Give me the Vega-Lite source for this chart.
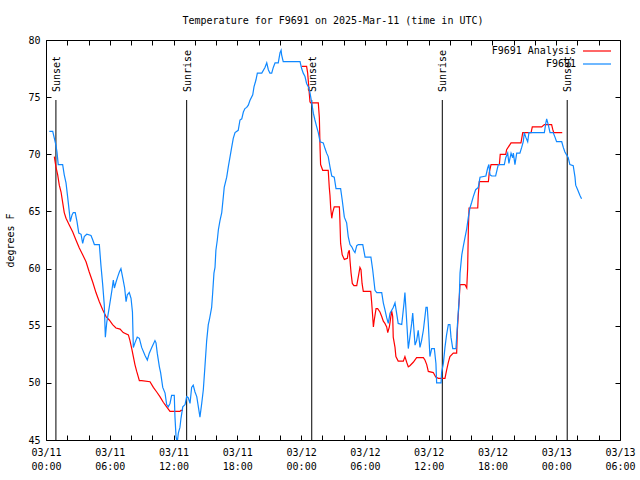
{
"$schema": "https://vega.github.io/schema/vega-lite/v6.json",
"width": 574, "height": 400,
"autosize": {"type": "none"},
"padding": {"left": 46, "top": 40, "right": 20, "bottom": 40},
"background": "white",
"title": {"text": "Temperature for F9691 on 2025-Mar-11 (time in UTC)", "font": "DejaVu Sans Mono", "fontSize": 10, "fontWeight": "normal", "color": "black", "anchor": "middle", "offset": 9},
"config": {
  "view": {"stroke": "black", "strokeWidth": 1},
  "font": "DejaVu Sans Mono",
  "axis": {"labelFont": "DejaVu Sans Mono", "labelFontSize": 10, "labelColor": "black", "tickColor": "black", "domain": false, "grid": false, "titleFont": "DejaVu Sans Mono", "titleFontSize": 10, "titleFontWeight": "normal", "titleColor": "black", "tickSize": -5, "labelOverlap": false, "labelFlush": false},
  "legend": {"orient": "none", "legendX": 546, "legendY": 6, "title": null, "symbolType": "M-3.5,0H3.5", "symbolSize": 64, "symbolStrokeWidth": 1.2, "labelAlign": "right", "labelOffset": -26, "labelFont": "DejaVu Sans Mono", "labelFontSize": 10, "labelColor": "black", "rowPadding": 3, "padding": 0}
},
"datasets": {
"sun": [
{"t": 1741654560000, "label": "Sunset"},
{"t": 1741698840000, "label": "Sunrise"},
{"t": 1741741200000, "label": "Sunset"},
{"t": 1741785420000, "label": "Sunrise"},
{"t": 1741827720000, "label": "Sunset"}
],
"ana": [
{"t":"2025-03-11T00:47:00Z","v":69.8,"g":"a"},
{"t":"2025-03-11T00:56:00Z","v":68.9,"g":"a"},
{"t":"2025-03-11T01:06:00Z","v":68.2,"g":"a"},
{"t":"2025-03-11T01:15:00Z","v":67.3,"g":"a"},
{"t":"2025-03-11T01:25:00Z","v":66.7,"g":"a"},
{"t":"2025-03-11T01:34:00Z","v":65.8,"g":"a"},
{"t":"2025-03-11T01:43:00Z","v":64.9,"g":"a"},
{"t":"2025-03-11T01:53:00Z","v":64.4,"g":"a"},
{"t":"2025-03-11T02:12:00Z","v":63.8,"g":"a"},
{"t":"2025-03-11T02:31:00Z","v":63.2,"g":"a"},
{"t":"2025-03-11T02:49:00Z","v":62.5,"g":"a"},
{"t":"2025-03-11T03:08:00Z","v":61.8,"g":"a"},
{"t":"2025-03-11T03:27:00Z","v":61.2,"g":"a"},
{"t":"2025-03-11T03:46:00Z","v":60.6,"g":"a"},
{"t":"2025-03-11T04:04:00Z","v":59.7,"g":"a"},
{"t":"2025-03-11T04:24:00Z","v":58.8,"g":"a"},
{"t":"2025-03-11T04:42:00Z","v":57.9,"g":"a"},
{"t":"2025-03-11T05:01:00Z","v":57.1,"g":"a"},
{"t":"2025-03-11T05:20:00Z","v":56.4,"g":"a"},
{"t":"2025-03-11T05:39:00Z","v":55.8,"g":"a"},
{"t":"2025-03-11T05:57:00Z","v":55.5,"g":"a"},
{"t":"2025-03-11T06:16:00Z","v":55.1,"g":"a"},
{"t":"2025-03-11T06:35:00Z","v":54.8,"g":"a"},
{"t":"2025-03-11T06:58:00Z","v":54.7,"g":"a"},
{"t":"2025-03-11T07:16:00Z","v":54.4,"g":"a"},
{"t":"2025-03-11T07:45:00Z","v":54.2,"g":"a"},
{"t":"2025-03-11T07:54:00Z","v":53.7,"g":"a"},
{"t":"2025-03-11T08:04:00Z","v":53.0,"g":"a"},
{"t":"2025-03-11T08:13:00Z","v":52.3,"g":"a"},
{"t":"2025-03-11T08:22:00Z","v":51.6,"g":"a"},
{"t":"2025-03-11T08:32:00Z","v":51.0,"g":"a"},
{"t":"2025-03-11T08:47:00Z","v":50.2,"g":"a"},
{"t":"2025-03-11T09:00:00Z","v":50.2,"g":"a"},
{"t":"2025-03-11T09:47:00Z","v":50.1,"g":"a"},
{"t":"2025-03-11T10:06:00Z","v":49.6,"g":"a"},
{"t":"2025-03-11T10:25:00Z","v":49.2,"g":"a"},
{"t":"2025-03-11T10:43:00Z","v":48.8,"g":"a"},
{"t":"2025-03-11T11:02:00Z","v":48.3,"g":"a"},
{"t":"2025-03-11T11:21:00Z","v":47.9,"g":"a"},
{"t":"2025-03-11T11:40:00Z","v":47.5,"g":"a"},
{"t":"2025-03-11T12:08:00Z","v":47.5,"g":"a"},
{"t":"2025-03-11T12:36:00Z","v":47.5,"g":"a"},
{"t":"2025-03-11T12:42:00Z","v":47.6,"g":"a"},
{"t":"2025-03-11T12:53:00Z","v":47.6,"g":"a"},
{"t":"2025-03-12T00:03:00Z","v":77.7,"g":"b"},
{"t":"2025-03-12T00:31:00Z","v":77.7,"g":"b"},
{"t":"2025-03-12T00:37:00Z","v":77.1,"g":"b"},
{"t":"2025-03-12T00:50:00Z","v":74.6,"g":"b"},
{"t":"2025-03-12T00:54:00Z","v":74.5,"g":"b"},
{"t":"2025-03-12T01:37:00Z","v":74.5,"g":"b"},
{"t":"2025-03-12T01:43:00Z","v":73.2,"g":"b"},
{"t":"2025-03-12T01:47:00Z","v":70.5,"g":"b"},
{"t":"2025-03-12T01:50:00Z","v":69.1,"g":"b"},
{"t":"2025-03-12T02:02:00Z","v":68.6,"g":"b"},
{"t":"2025-03-12T02:33:00Z","v":68.6,"g":"b"},
{"t":"2025-03-12T02:39:00Z","v":67.1,"g":"b"},
{"t":"2025-03-12T02:43:00Z","v":66.4,"g":"b"},
{"t":"2025-03-12T02:47:00Z","v":65.3,"g":"b"},
{"t":"2025-03-12T02:53:00Z","v":64.4,"g":"b"},
{"t":"2025-03-12T02:58:00Z","v":64.9,"g":"b"},
{"t":"2025-03-12T03:07:00Z","v":65.4,"g":"b"},
{"t":"2025-03-12T03:36:00Z","v":65.4,"g":"b"},
{"t":"2025-03-12T03:39:00Z","v":64.2,"g":"b"},
{"t":"2025-03-12T03:43:00Z","v":62.2,"g":"b"},
{"t":"2025-03-12T03:52:00Z","v":61.2,"g":"b"},
{"t":"2025-03-12T04:04:00Z","v":60.8,"g":"b"},
{"t":"2025-03-12T04:21:00Z","v":60.9,"g":"b"},
{"t":"2025-03-12T04:26:00Z","v":61.4,"g":"b"},
{"t":"2025-03-12T04:32:00Z","v":61.6,"g":"b"},
{"t":"2025-03-12T04:36:00Z","v":60.7,"g":"b"},
{"t":"2025-03-12T04:42:00Z","v":59.6,"g":"b"},
{"t":"2025-03-12T04:49:00Z","v":58.7,"g":"b"},
{"t":"2025-03-12T04:58:00Z","v":58.5,"g":"b"},
{"t":"2025-03-12T05:14:00Z","v":58.5,"g":"b"},
{"t":"2025-03-12T05:23:00Z","v":59.3,"g":"b"},
{"t":"2025-03-12T05:32:00Z","v":60.1,"g":"b"},
{"t":"2025-03-12T05:38:00Z","v":59.9,"g":"b"},
{"t":"2025-03-12T05:44:00Z","v":58.7,"g":"b"},
{"t":"2025-03-12T05:51:00Z","v":58.0,"g":"b"},
{"t":"2025-03-12T06:33:00Z","v":58.0,"g":"b"},
{"t":"2025-03-12T06:38:00Z","v":57.1,"g":"b"},
{"t":"2025-03-12T06:44:00Z","v":55.8,"g":"b"},
{"t":"2025-03-12T06:48:00Z","v":54.9,"g":"b"},
{"t":"2025-03-12T06:53:00Z","v":55.5,"g":"b"},
{"t":"2025-03-12T07:03:00Z","v":56.5,"g":"b"},
{"t":"2025-03-12T07:12:00Z","v":56.5,"g":"b"},
{"t":"2025-03-12T07:25:00Z","v":56.2,"g":"b"},
{"t":"2025-03-12T07:35:00Z","v":55.8,"g":"b"},
{"t":"2025-03-12T07:44:00Z","v":55.4,"g":"b"},
{"t":"2025-03-12T07:53:00Z","v":55.2,"g":"b"},
{"t":"2025-03-12T08:03:00Z","v":54.9,"g":"b"},
{"t":"2025-03-12T08:09:00Z","v":54.4,"g":"b"},
{"t":"2025-03-12T08:18:00Z","v":54.9,"g":"b"},
{"t":"2025-03-12T08:22:00Z","v":55.3,"g":"b"},
{"t":"2025-03-12T08:31:00Z","v":56.3,"g":"b"},
{"t":"2025-03-12T08:37:00Z","v":55.8,"g":"b"},
{"t":"2025-03-12T08:40:00Z","v":54.0,"g":"b"},
{"t":"2025-03-12T08:50:00Z","v":53.1,"g":"b"},
{"t":"2025-03-12T08:55:00Z","v":52.3,"g":"b"},
{"t":"2025-03-12T09:08:00Z","v":51.9,"g":"b"},
{"t":"2025-03-12T09:37:00Z","v":51.9,"g":"b"},
{"t":"2025-03-12T09:46:00Z","v":52.3,"g":"b"},
{"t":"2025-03-12T09:56:00Z","v":51.8,"g":"b"},
{"t":"2025-03-12T10:05:00Z","v":51.4,"g":"b"},
{"t":"2025-03-12T10:14:00Z","v":51.5,"g":"b"},
{"t":"2025-03-12T10:33:00Z","v":51.8,"g":"b"},
{"t":"2025-03-12T10:52:00Z","v":52.2,"g":"b"},
{"t":"2025-03-12T11:30:00Z","v":52.2,"g":"b"},
{"t":"2025-03-12T11:39:00Z","v":52.0,"g":"b"},
{"t":"2025-03-12T11:49:00Z","v":51.6,"g":"b"},
{"t":"2025-03-12T11:58:00Z","v":51.0,"g":"b"},
{"t":"2025-03-12T12:26:00Z","v":50.9,"g":"b"},
{"t":"2025-03-12T12:40:00Z","v":50.5,"g":"b"},
{"t":"2025-03-12T12:55:00Z","v":50.4,"g":"b"},
{"t":"2025-03-12T13:32:00Z","v":50.4,"g":"b"},
{"t":"2025-03-12T13:41:00Z","v":51.1,"g":"b"},
{"t":"2025-03-12T13:51:00Z","v":51.8,"g":"b"},
{"t":"2025-03-12T14:00:00Z","v":52.3,"g":"b"},
{"t":"2025-03-12T14:19:00Z","v":52.6,"g":"b"},
{"t":"2025-03-12T14:38:00Z","v":52.6,"g":"b"},
{"t":"2025-03-12T14:42:00Z","v":54.6,"g":"b"},
{"t":"2025-03-12T14:53:00Z","v":57.5,"g":"b"},
{"t":"2025-03-12T14:57:00Z","v":58.6,"g":"b"},
{"t":"2025-03-12T15:25:00Z","v":58.6,"g":"b"},
{"t":"2025-03-12T15:35:00Z","v":58.3,"g":"b"},
{"t":"2025-03-12T15:40:00Z","v":60.0,"g":"b"},
{"t":"2025-03-12T15:44:00Z","v":63.4,"g":"b"},
{"t":"2025-03-12T15:48:00Z","v":65.3,"g":"b"},
{"t":"2025-03-12T16:37:00Z","v":65.3,"g":"b"},
{"t":"2025-03-12T16:40:00Z","v":66.4,"g":"b"},
{"t":"2025-03-12T16:46:00Z","v":67.6,"g":"b"},
{"t":"2025-03-12T17:37:00Z","v":67.6,"g":"b"},
{"t":"2025-03-12T17:42:00Z","v":68.4,"g":"b"},
{"t":"2025-03-12T17:52:00Z","v":69.1,"g":"b"},
{"t":"2025-03-12T18:39:00Z","v":69.1,"g":"b"},
{"t":"2025-03-12T18:44:00Z","v":70.0,"g":"b"},
{"t":"2025-03-12T19:15:00Z","v":70.0,"g":"b"},
{"t":"2025-03-12T19:20:00Z","v":70.4,"g":"b"},
{"t":"2025-03-12T19:45:00Z","v":71.0,"g":"b"},
{"t":"2025-03-12T20:41:00Z","v":71.0,"g":"b"},
{"t":"2025-03-12T20:51:00Z","v":71.9,"g":"b"},
{"t":"2025-03-12T21:38:00Z","v":71.9,"g":"b"},
{"t":"2025-03-12T21:45:00Z","v":72.4,"g":"b"},
{"t":"2025-03-12T22:38:00Z","v":72.4,"g":"b"},
{"t":"2025-03-12T22:53:00Z","v":72.6,"g":"b"},
{"t":"2025-03-12T23:34:00Z","v":72.6,"g":"b"},
{"t":"2025-03-12T23:40:00Z","v":72.2,"g":"b"},
{"t":"2025-03-12T23:46:00Z","v":71.9,"g":"b"},
{"t":"2025-03-13T00:34:00Z","v":71.9,"g":"b"}
],
"obs": [
{"t":"2025-03-11T00:19:00Z","v":72.0},
{"t":"2025-03-11T00:38:00Z","v":72.0},
{"t":"2025-03-11T00:56:00Z","v":70.8},
{"t":"2025-03-11T01:02:00Z","v":70.2},
{"t":"2025-03-11T01:09:00Z","v":69.1},
{"t":"2025-03-11T01:34:00Z","v":69.1},
{"t":"2025-03-11T01:43:00Z","v":68.2},
{"t":"2025-03-11T01:53:00Z","v":67.5},
{"t":"2025-03-11T02:02:00Z","v":66.3},
{"t":"2025-03-11T02:12:00Z","v":64.9},
{"t":"2025-03-11T02:17:00Z","v":64.1},
{"t":"2025-03-11T02:27:00Z","v":64.7},
{"t":"2025-03-11T02:34:00Z","v":64.9},
{"t":"2025-03-11T02:45:00Z","v":64.9},
{"t":"2025-03-11T02:55:00Z","v":64.1},
{"t":"2025-03-11T03:05:00Z","v":63.1},
{"t":"2025-03-11T03:18:00Z","v":63.0},
{"t":"2025-03-11T03:27:00Z","v":62.2},
{"t":"2025-03-11T03:36:00Z","v":62.8},
{"t":"2025-03-11T03:50:00Z","v":63.0},
{"t":"2025-03-11T04:14:00Z","v":62.9},
{"t":"2025-03-11T04:24:00Z","v":62.5},
{"t":"2025-03-11T04:33:00Z","v":62.1},
{"t":"2025-03-11T05:01:00Z","v":62.1},
{"t":"2025-03-11T05:10:00Z","v":60.3},
{"t":"2025-03-11T05:20:00Z","v":58.6},
{"t":"2025-03-11T05:29:00Z","v":56.8},
{"t":"2025-03-11T05:35:00Z","v":54.0},
{"t":"2025-03-11T05:43:00Z","v":55.3},
{"t":"2025-03-11T05:57:00Z","v":56.6},
{"t":"2025-03-11T06:12:00Z","v":58.1},
{"t":"2025-03-11T06:20:00Z","v":59.0},
{"t":"2025-03-11T06:26:00Z","v":58.3},
{"t":"2025-03-11T06:35:00Z","v":58.8},
{"t":"2025-03-11T06:45:00Z","v":59.3},
{"t":"2025-03-11T06:54:00Z","v":59.7},
{"t":"2025-03-11T07:03:00Z","v":60.0},
{"t":"2025-03-11T07:13:00Z","v":59.2},
{"t":"2025-03-11T07:24:00Z","v":58.3},
{"t":"2025-03-11T07:32:00Z","v":57.1},
{"t":"2025-03-11T07:39:00Z","v":57.7},
{"t":"2025-03-11T07:50:00Z","v":57.9},
{"t":"2025-03-11T08:00:00Z","v":57.4},
{"t":"2025-03-11T08:08:00Z","v":56.2},
{"t":"2025-03-11T08:13:00Z","v":53.1},
{"t":"2025-03-11T08:22:00Z","v":53.5},
{"t":"2025-03-11T08:35:00Z","v":54.0},
{"t":"2025-03-11T08:47:00Z","v":53.9},
{"t":"2025-03-11T09:00:00Z","v":53.1},
{"t":"2025-03-11T09:19:00Z","v":52.4},
{"t":"2025-03-11T09:32:00Z","v":52.0},
{"t":"2025-03-11T09:43:00Z","v":52.6},
{"t":"2025-03-11T09:57:00Z","v":53.1},
{"t":"2025-03-11T10:15:00Z","v":53.7},
{"t":"2025-03-11T10:21:00Z","v":53.5},
{"t":"2025-03-11T10:28:00Z","v":52.6},
{"t":"2025-03-11T10:40:00Z","v":51.4},
{"t":"2025-03-11T10:47:00Z","v":50.9},
{"t":"2025-03-11T10:59:00Z","v":49.6},
{"t":"2025-03-11T11:12:00Z","v":49.1},
{"t":"2025-03-11T11:21:00Z","v":48.1},
{"t":"2025-03-11T11:30:00Z","v":47.9},
{"t":"2025-03-11T11:40:00Z","v":48.2},
{"t":"2025-03-11T11:49:00Z","v":48.9},
{"t":"2025-03-11T12:04:00Z","v":48.9},
{"t":"2025-03-11T12:08:00Z","v":47.0},
{"t":"2025-03-11T12:14:00Z","v":45.3},
{"t":"2025-03-11T12:21:00Z","v":44.8},
{"t":"2025-03-11T12:27:00Z","v":45.6},
{"t":"2025-03-11T12:36:00Z","v":46.1},
{"t":"2025-03-11T12:42:00Z","v":46.9},
{"t":"2025-03-11T12:52:00Z","v":47.9},
{"t":"2025-03-11T13:05:00Z","v":48.1},
{"t":"2025-03-11T13:14:00Z","v":48.8},
{"t":"2025-03-11T13:23:00Z","v":48.7},
{"t":"2025-03-11T13:33:00Z","v":48.2},
{"t":"2025-03-11T13:42:00Z","v":49.6},
{"t":"2025-03-11T13:51:00Z","v":49.8},
{"t":"2025-03-11T14:01:00Z","v":49.2},
{"t":"2025-03-11T14:11:00Z","v":48.8},
{"t":"2025-03-11T14:20:00Z","v":47.9},
{"t":"2025-03-11T14:29:00Z","v":47.0},
{"t":"2025-03-11T14:39:00Z","v":48.2},
{"t":"2025-03-11T14:48:00Z","v":49.4},
{"t":"2025-03-11T14:57:00Z","v":51.4},
{"t":"2025-03-11T15:07:00Z","v":53.7},
{"t":"2025-03-11T15:16:00Z","v":55.1},
{"t":"2025-03-11T15:22:00Z","v":55.5},
{"t":"2025-03-11T15:35:00Z","v":56.6},
{"t":"2025-03-11T15:41:00Z","v":57.9},
{"t":"2025-03-11T15:48:00Z","v":59.6},
{"t":"2025-03-11T15:54:00Z","v":60.1},
{"t":"2025-03-11T15:59:00Z","v":61.6},
{"t":"2025-03-11T16:07:00Z","v":62.5},
{"t":"2025-03-11T16:13:00Z","v":63.4},
{"t":"2025-03-11T16:22:00Z","v":64.2},
{"t":"2025-03-11T16:32:00Z","v":64.9},
{"t":"2025-03-11T16:41:00Z","v":66.3},
{"t":"2025-03-11T16:46:00Z","v":67.1},
{"t":"2025-03-11T17:00:00Z","v":68.0},
{"t":"2025-03-11T17:09:00Z","v":68.9},
{"t":"2025-03-11T17:19:00Z","v":69.8},
{"t":"2025-03-11T17:28:00Z","v":70.6},
{"t":"2025-03-11T17:37:00Z","v":71.4},
{"t":"2025-03-11T17:47:00Z","v":71.9},
{"t":"2025-03-11T18:05:00Z","v":72.1},
{"t":"2025-03-11T18:15:00Z","v":73.0},
{"t":"2025-03-11T18:25:00Z","v":73.1},
{"t":"2025-03-11T18:34:00Z","v":73.7},
{"t":"2025-03-11T18:43:00Z","v":74.0},
{"t":"2025-03-11T18:53:00Z","v":74.1},
{"t":"2025-03-11T19:02:00Z","v":74.3},
{"t":"2025-03-11T19:11:00Z","v":74.7},
{"t":"2025-03-11T19:27:00Z","v":75.2},
{"t":"2025-03-11T19:34:00Z","v":75.9},
{"t":"2025-03-11T19:45:00Z","v":76.5},
{"t":"2025-03-11T19:53:00Z","v":77.1},
{"t":"2025-03-11T20:18:00Z","v":77.1},
{"t":"2025-03-11T20:36:00Z","v":77.6},
{"t":"2025-03-11T20:46:00Z","v":78.0},
{"t":"2025-03-11T20:55:00Z","v":77.4},
{"t":"2025-03-11T21:04:00Z","v":77.1},
{"t":"2025-03-11T21:14:00Z","v":77.1},
{"t":"2025-03-11T21:23:00Z","v":77.6},
{"t":"2025-03-11T21:33:00Z","v":78.0},
{"t":"2025-03-11T21:51:00Z","v":78.0},
{"t":"2025-03-11T22:01:00Z","v":78.9},
{"t":"2025-03-11T22:07:00Z","v":79.1},
{"t":"2025-03-11T22:10:00Z","v":78.7},
{"t":"2025-03-11T22:19:00Z","v":78.1},
{"t":"2025-03-11T22:38:00Z","v":78.1},
{"t":"2025-03-11T23:54:00Z","v":78.1},
{"t":"2025-03-12T00:03:00Z","v":77.5},
{"t":"2025-03-12T00:12:00Z","v":77.1},
{"t":"2025-03-12T00:22:00Z","v":76.8},
{"t":"2025-03-12T00:31:00Z","v":76.2},
{"t":"2025-03-12T00:41:00Z","v":75.9},
{"t":"2025-03-12T00:50:00Z","v":75.4},
{"t":"2025-03-12T01:00:00Z","v":74.5},
{"t":"2025-03-12T01:09:00Z","v":73.6},
{"t":"2025-03-12T01:18:00Z","v":73.0},
{"t":"2025-03-12T01:28:00Z","v":72.4},
{"t":"2025-03-12T01:37:00Z","v":71.9},
{"t":"2025-03-12T01:47:00Z","v":71.1},
{"t":"2025-03-12T02:05:00Z","v":71.0},
{"t":"2025-03-12T02:15:00Z","v":70.5},
{"t":"2025-03-12T02:24:00Z","v":70.1},
{"t":"2025-03-12T02:33:00Z","v":69.8},
{"t":"2025-03-12T02:43:00Z","v":68.9},
{"t":"2025-03-12T02:53:00Z","v":68.1},
{"t":"2025-03-12T03:07:00Z","v":68.0},
{"t":"2025-03-12T03:17:00Z","v":67.0},
{"t":"2025-03-12T03:43:00Z","v":67.0},
{"t":"2025-03-12T03:52:00Z","v":66.0},
{"t":"2025-03-12T04:04:00Z","v":64.5},
{"t":"2025-03-12T04:17:00Z","v":64.0},
{"t":"2025-03-12T04:26:00Z","v":62.8},
{"t":"2025-03-12T04:36:00Z","v":62.1},
{"t":"2025-03-12T04:46:00Z","v":61.9},
{"t":"2025-03-12T04:55:00Z","v":61.6},
{"t":"2025-03-12T05:04:00Z","v":61.4},
{"t":"2025-03-12T05:14:00Z","v":62.0},
{"t":"2025-03-12T05:23:00Z","v":62.1},
{"t":"2025-03-12T05:48:00Z","v":62.1},
{"t":"2025-03-12T06:01:00Z","v":61.0},
{"t":"2025-03-12T06:34:00Z","v":61.0},
{"t":"2025-03-12T06:44:00Z","v":59.9},
{"t":"2025-03-12T06:57:00Z","v":58.1},
{"t":"2025-03-12T07:07:00Z","v":57.9},
{"t":"2025-03-12T07:35:00Z","v":57.9},
{"t":"2025-03-12T07:44:00Z","v":57.0},
{"t":"2025-03-12T07:53:00Z","v":56.4},
{"t":"2025-03-12T08:03:00Z","v":55.7},
{"t":"2025-03-12T08:12:00Z","v":55.2},
{"t":"2025-03-12T08:22:00Z","v":56.1},
{"t":"2025-03-12T08:40:00Z","v":56.6},
{"t":"2025-03-12T08:50:00Z","v":57.0},
{"t":"2025-03-12T08:59:00Z","v":56.1},
{"t":"2025-03-12T09:08:00Z","v":55.2},
{"t":"2025-03-12T09:28:00Z","v":55.1},
{"t":"2025-03-12T09:41:00Z","v":57.0},
{"t":"2025-03-12T09:46:00Z","v":57.9},
{"t":"2025-03-12T09:52:00Z","v":56.4},
{"t":"2025-03-12T09:59:00Z","v":54.6},
{"t":"2025-03-12T10:05:00Z","v":53.0},
{"t":"2025-03-12T10:14:00Z","v":54.0},
{"t":"2025-03-12T10:24:00Z","v":55.2},
{"t":"2025-03-12T10:30:00Z","v":56.1},
{"t":"2025-03-12T10:37:00Z","v":54.6},
{"t":"2025-03-12T10:43:00Z","v":53.3},
{"t":"2025-03-12T10:52:00Z","v":53.7},
{"t":"2025-03-12T11:01:00Z","v":54.6},
{"t":"2025-03-12T11:11:00Z","v":53.1},
{"t":"2025-03-12T11:20:00Z","v":53.7},
{"t":"2025-03-12T11:30:00Z","v":54.6},
{"t":"2025-03-12T11:39:00Z","v":55.8},
{"t":"2025-03-12T11:45:00Z","v":56.6},
{"t":"2025-03-12T11:52:00Z","v":56.6},
{"t":"2025-03-12T11:58:00Z","v":55.2},
{"t":"2025-03-12T12:07:00Z","v":52.3},
{"t":"2025-03-12T12:17:00Z","v":53.0},
{"t":"2025-03-12T12:32:00Z","v":53.0},
{"t":"2025-03-12T12:41:00Z","v":51.7},
{"t":"2025-03-12T12:45:00Z","v":50.0},
{"t":"2025-03-12T13:10:00Z","v":50.0},
{"t":"2025-03-12T13:13:00Z","v":50.9},
{"t":"2025-03-12T13:23:00Z","v":51.7},
{"t":"2025-03-12T13:32:00Z","v":53.1},
{"t":"2025-03-12T13:41:00Z","v":54.2},
{"t":"2025-03-12T13:51:00Z","v":55.1},
{"t":"2025-03-12T14:00:00Z","v":55.1},
{"t":"2025-03-12T14:06:00Z","v":54.0},
{"t":"2025-03-12T14:16:00Z","v":53.0},
{"t":"2025-03-12T14:34:00Z","v":53.0},
{"t":"2025-03-12T14:44:00Z","v":55.5},
{"t":"2025-03-12T14:53:00Z","v":57.5},
{"t":"2025-03-12T14:57:00Z","v":59.6},
{"t":"2025-03-12T15:07:00Z","v":61.2},
{"t":"2025-03-12T15:15:00Z","v":61.9},
{"t":"2025-03-12T15:25:00Z","v":62.7},
{"t":"2025-03-12T15:35:00Z","v":63.5},
{"t":"2025-03-12T15:44:00Z","v":64.5},
{"t":"2025-03-12T15:53:00Z","v":65.3},
{"t":"2025-03-12T16:03:00Z","v":65.8},
{"t":"2025-03-12T16:12:00Z","v":66.3},
{"t":"2025-03-12T16:25:00Z","v":66.9},
{"t":"2025-03-12T16:40:00Z","v":67.1},
{"t":"2025-03-12T16:50:00Z","v":68.0},
{"t":"2025-03-12T17:23:00Z","v":68.1},
{"t":"2025-03-12T17:33:00Z","v":68.8},
{"t":"2025-03-12T17:40:00Z","v":69.1},
{"t":"2025-03-12T17:46:00Z","v":68.2},
{"t":"2025-03-12T17:56:00Z","v":68.1},
{"t":"2025-03-12T18:18:00Z","v":68.1},
{"t":"2025-03-12T18:33:00Z","v":69.1},
{"t":"2025-03-12T19:07:00Z","v":69.1},
{"t":"2025-03-12T19:15:00Z","v":69.7},
{"t":"2025-03-12T19:26:00Z","v":70.1},
{"t":"2025-03-12T19:33:00Z","v":69.2},
{"t":"2025-03-12T19:45:00Z","v":70.1},
{"t":"2025-03-12T19:54:00Z","v":69.7},
{"t":"2025-03-12T19:58:00Z","v":70.1},
{"t":"2025-03-12T20:07:00Z","v":69.1},
{"t":"2025-03-12T20:17:00Z","v":70.1},
{"t":"2025-03-12T20:35:00Z","v":70.1},
{"t":"2025-03-12T20:45:00Z","v":70.6},
{"t":"2025-03-12T20:54:00Z","v":71.1},
{"t":"2025-03-12T21:00:00Z","v":71.9},
{"t":"2025-03-12T21:08:00Z","v":71.5},
{"t":"2025-03-12T21:19:00Z","v":71.1},
{"t":"2025-03-12T21:26:00Z","v":71.9},
{"t":"2025-03-12T22:53:00Z","v":71.9},
{"t":"2025-03-12T23:01:00Z","v":72.7},
{"t":"2025-03-12T23:06:00Z","v":73.1},
{"t":"2025-03-12T23:15:00Z","v":72.6},
{"t":"2025-03-12T23:25:00Z","v":71.9},
{"t":"2025-03-12T23:43:00Z","v":71.9},
{"t":"2025-03-12T23:53:00Z","v":71.5},
{"t":"2025-03-13T00:02:00Z","v":71.1},
{"t":"2025-03-13T00:31:00Z","v":71.1},
{"t":"2025-03-13T00:40:00Z","v":70.6},
{"t":"2025-03-13T00:49:00Z","v":70.2},
{"t":"2025-03-13T01:08:00Z","v":69.7},
{"t":"2025-03-13T01:17:00Z","v":69.1},
{"t":"2025-03-13T01:36:00Z","v":69.0},
{"t":"2025-03-13T01:46:00Z","v":68.0},
{"t":"2025-03-13T01:50:00Z","v":67.3},
{"t":"2025-03-13T02:01:00Z","v":66.9},
{"t":"2025-03-13T02:14:00Z","v":66.4},
{"t":"2025-03-13T02:23:00Z","v":66.1}
]
},
"layer": [
{
  "data": {"name": "sun"},
  "mark": {"type": "rule", "color": "black", "strokeWidth": 1},
  "encoding": {
    "x": {"field": "t", "type": "temporal", "scale": {"type": "utc", "domain": [1741651200000, 1741845600000], "nice": false},
          "axis": {"orient": "bottom", "title": null, "labelPadding": 12, "labelLineHeight": 14, "labelBaseline": "top", "labelOverlap": false, "labelFlush": false, "labelBound": false,
                   "values": [1741651200000,1741658400000,1741665600000,1741672800000,1741680000000,1741687200000,1741694400000,1741701600000,1741708800000,1741716000000,1741723200000,1741730400000,1741737600000,1741744800000,1741752000000,1741759200000,1741766400000,1741773600000,1741780800000,1741788000000,1741795200000,1741802400000,1741809600000,1741816800000,1741824000000,1741831200000,1741838400000,1741845600000],
                   "labelExpr": "utchours(datum.value) % 6 == 0 ? [utcFormat(datum.value, '%m/%d'), utcFormat(datum.value, '%H:%M')] : ''"}},
    "y": {"datum": 45, "type": "quantitative", "scale": {"domain": [45, 80], "nice": false, "zero": false},
          "axis": {"orient": "left", "title": "degrees F", "values": [45, 50, 55, 60, 65, 70, 75, 80], "labelPadding": 11, "titlePadding": 12}},
    "y2": {"datum": 74.75}
  }
},
{
  "data": {"name": "sun"},
  "mark": {"type": "text", "angle": 270, "align": "left", "baseline": "middle", "font": "DejaVu Sans Mono", "fontSize": 10, "color": "black", "dy": 1},
  "encoding": {
    "x": {"field": "t", "type": "temporal",
          "axis": {"orient": "top", "title": null, "labels": false, "values": [1741651200000,1741658400000,1741665600000,1741672800000,1741680000000,1741687200000,1741694400000,1741701600000,1741708800000,1741716000000,1741723200000,1741730400000,1741737600000,1741744800000,1741752000000,1741759200000,1741766400000,1741773600000,1741780800000,1741788000000,1741795200000,1741802400000,1741809600000,1741816800000,1741824000000,1741831200000,1741838400000,1741845600000]}},
    "y": {"datum": 75.45, "type": "quantitative",
          "axis": {"orient": "right", "title": null, "labels": false, "values": [45, 50, 55, 60, 65, 70, 75, 80]}},
    "text": {"field": "label"}
  }
},
{
  "data": {"name": "ana"},
  "mark": {"type": "line", "strokeWidth": 1.2, "clip": true},
  "encoding": {
    "x": {"field": "t", "type": "temporal", "axis": null},
    "y": {"field": "v", "type": "quantitative", "axis": null},
    "detail": {"field": "g"},
    "color": {"datum": "F9691 Analysis", "type": "nominal", "scale": {"domain": ["F9691 Analysis", "F9691"], "range": ["#ff0000", "#0f88ff"]}}
  }
},
{
  "data": {"name": "obs"},
  "mark": {"type": "line", "strokeWidth": 1.2, "clip": true},
  "encoding": {
    "x": {"field": "t", "type": "temporal", "axis": null},
    "y": {"field": "v", "type": "quantitative", "axis": null},
    "color": {"datum": "F9691", "type": "nominal"}
  }
}
],
"resolve": {"axis": {"x": "independent", "y": "independent"}}
}
